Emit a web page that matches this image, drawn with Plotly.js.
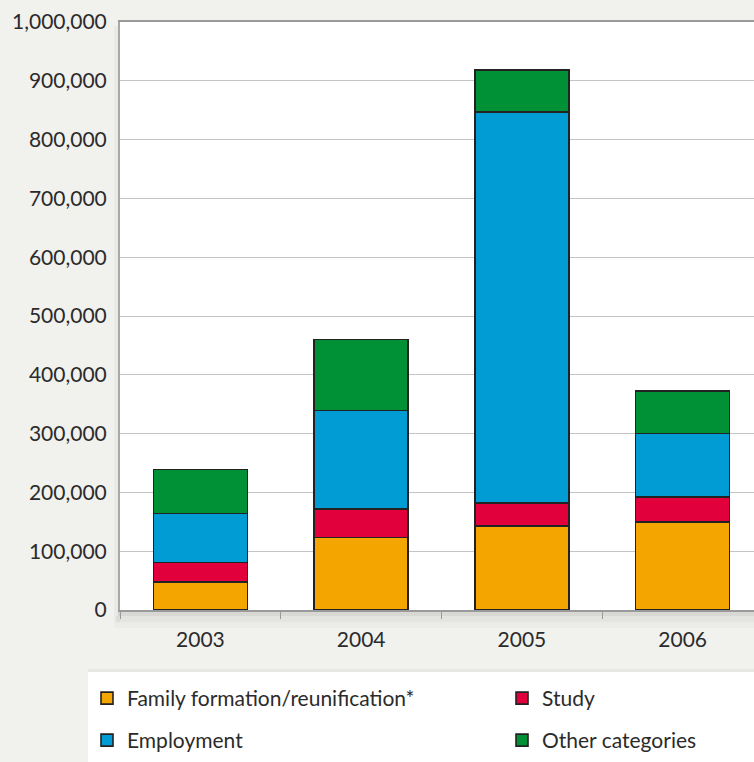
<!DOCTYPE html>
<html>
<head>
<meta charset="utf-8">
<script src="https://cdn.plot.ly/plotly-3.0.1.min.js"></script>
<style>
html, body { margin: 0; padding: 0; overflow: hidden; background: #f1f1ed; }
#chart { width: 770px; height: 762px; }
</style>
</head>
<body>
<div id="chart"></div>
<script>
const years = ["2003", "2004", "2005", "2006"];
const family = [48000, 123000, 143000, 150000];
const study = [33000, 49000, 39000, 42000];
const employment = [83000, 167000, 665000, 108000];
const other = [75000, 121000, 71000, 72000];
const seriesNames = ["Family formation/reunification*", "Study", "Employment", "Other categories"];
const seriesColors = ["#f5a500", "#e2003c", "#009cd3", "#009036"];
const yTicks = [0, 100000, 200000, 300000, 400000, 500000, 600000, 700000, 800000, 900000, 1000000];

const seriesValues = [family, study, employment, other];
const legendIds = ["legend", "legend", "legend2", "legend2"];
const legendWidths = [370, undefined, 370, undefined];

const traces = seriesValues.map((vals, i) => {
  const t = {
    type: "bar",
    name: seriesNames[i],
    x: years,
    y: vals,
    legend: legendIds[i],
    marker: { color: seriesColors[i], line: { color: "#222222", width: 1.6 } },
    hoverinfo: "x+y+name"
  };
  if (legendWidths[i] !== undefined) t.legendwidth = legendWidths[i];
  return t;
});

const W = 770, H = 762;
const mL = 120, mR = 7, mT = 22, mB = 152;
const pw = W - mL - mR, ph = H - mT - mB;
const px = v => (v - mL) / pw;
const py = v => (H - mB - v) / ph;

const fontFamily = "Lato, 'Open Sans', sans-serif";
const legendFont = { family: fontFamily, size: 21, color: "#2b2b2b" };

const shapes = [
  // legend white box
  { type: "rect", xref: "paper", yref: "paper", x0: px(88), x1: px(800), y0: py(800), y1: py(672),
    fillcolor: "#ffffff", line: { width: 0 }, layer: "below" },
  { type: "rect", xref: "paper", yref: "paper", x0: px(88), x1: px(800), y0: py(672), y1: py(669),
    fillcolor: "rgba(0,0,0,0.04)", line: { width: 0 }, layer: "below" },
  // plot shadow
  { type: "rect", xref: "paper", yref: "paper", x0: px(118), x1: px(800), y0: py(616), y1: py(610),
    fillcolor: "rgba(0,0,0,0.10)", line: { width: 0 }, layer: "below" },
  { type: "rect", xref: "paper", yref: "paper", x0: px(116), x1: px(800), y0: py(622), y1: py(616),
    fillcolor: "rgba(0,0,0,0.05)", line: { width: 0 }, layer: "below" },
  { type: "rect", xref: "paper", yref: "paper", x0: px(114), x1: px(800), y0: py(628), y1: py(622),
    fillcolor: "rgba(0,0,0,0.025)", line: { width: 0 }, layer: "below" },
  { type: "rect", xref: "paper", yref: "paper", x0: px(114), x1: px(120), y0: py(622), y1: py(26),
    fillcolor: "rgba(0,0,0,0.03)", line: { width: 0 }, layer: "below" }
];

const layout = {
  width: W,
  height: H,
  margin: { l: mL, r: mR, t: mT, b: mB, autoexpand: false },
  paper_bgcolor: "#f1f1ed",
  plot_bgcolor: "#ffffff",
  barmode: "stack",
  bargap: 0.415,
  showlegend: true,
  font: { family: fontFamily, size: 21, color: "#2b2b2b" },
  xaxis: {
    type: "category",
    showline: true,
    linecolor: "#9a9a9a",
    linewidth: 2,
    mirror: true,
    ticks: "outside",
    tickson: "boundaries",
    ticklen: 7,
    tickcolor: "#9a9a9a",
    tickwidth: 1,
    showgrid: false,
    tickfont: { family: fontFamily, size: 21, color: "#2b2b2b" },
    ticklabelstandoff: 10
  },
  yaxis: {
    range: [0, 1000000],
    tickvals: yTicks,
    tickformat: ",d",
    showgrid: true,
    gridcolor: "#c4c4c4",
    gridwidth: 1,
    showline: true,
    linecolor: "#a8a8a8",
    linewidth: 2,
    zeroline: false,
    ticks: "",
    tickfont: { family: fontFamily, size: 21, color: "#2b2b2b" },
    ticklabelstandoff: 7
  },
  legend: {
    orientation: "h",
    traceorder: "normal",
    x: px(87), xanchor: "left",
    y: py(678), yanchor: "top",
    bgcolor: "rgba(0,0,0,0)",
    borderwidth: 0,
    font: legendFont
  },
  legend2: {
    orientation: "h",
    traceorder: "normal",
    x: px(87), xanchor: "left",
    y: py(720), yanchor: "top",
    bgcolor: "rgba(0,0,0,0)",
    borderwidth: 0,
    font: legendFont
  },
  shapes: shapes
};

Plotly.newPlot("chart", traces, layout, { displayModeBar: false, staticPlot: true });
</script>
</body>
</html>
